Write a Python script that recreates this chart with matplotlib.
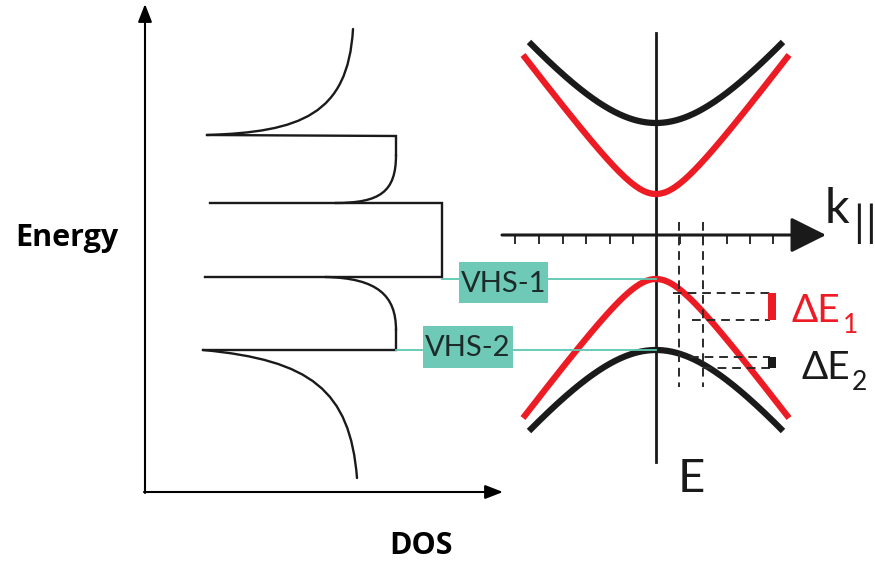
import numpy as np
from matplotlib import pyplot as plt
from matplotlib.path import Path
from matplotlib.patches import PathPatch, Rectangle

plt.rcParams['font.family'] = ['Lato', 'DejaVu Sans']

# everything is laid out in image pixels (x right, y down)
W, H = 875, 565

# DOS outline: bezier pieces (start, ctrl1, ctrl2, end) and straight steps
dos_top_curve = [(353, 29), (348, 115), (300, 132), (207, 135)]
dos_step1 = [(207, 135), (396, 136), (396, 155)]
dos_step1_curve = [(396, 155), (396, 192), (380, 203), (335, 203)]
dos_box = [(210, 203), (442, 203), (442, 277), (205, 277)]
dos_low_curve = [(325, 277), (378, 278), (396, 296), (396, 330)]
dos_step2 = [(396, 330), (396, 350), (203, 350)]
dos_bottom_curve = [(203, 350), (310, 360), (350, 390), (357, 478)]

# band structure (massive Dirac-like hyperbolas around the k axis)
k_axis_y = 236.5
k_center = 656
band_gap = [113.5, 42.5]        # half gap, px
band_slope = [1.244, 1.327]
band_halfwidth = [127, 133]
band_color = ['#1a1a1a', '#ed1c24']

tick_x = [515, 539, 563, 586, 610, 633, 680, 703, 727, 750, 773]

# van Hove markers
vhs_labels = ['VHS-1', 'VHS-2']
vhs_y = [279, 350]
vhs_line_start = [442, 396]
vhs_box = [(459, 262, 89, 41), (423, 326, 90, 42)]

# delta E construction
dash_vx = [679, 703]
de_y = [(293, 320), (357, 368)]
de_x0 = [(673, 692), (690, 703)]
de_color = ['#ed1c24', '#1a1a1a']
de_subs = ['1', '2']
de_text_pos = [(792, 322), (801, 379)]

fig = plt.figure(figsize=(W / 100, H / 100), dpi=100)
ax = fig.add_axes([0, 0, 1, 1])
ax.set_xlim(0, W)
ax.set_ylim(H, 0)
ax.axis('off')

# --- left panel: axes
ax.annotate('', xy=(145, 4), xytext=(145, 493),
            arrowprops=dict(arrowstyle='-|>,head_length=0.9,head_width=0.35',
                            mutation_scale=12, lw=1.5, color='black', shrinkA=0, shrinkB=0))
ax.annotate('', xy=(503, 492), xytext=(144, 492),
            arrowprops=dict(arrowstyle='-|>,head_length=0.9,head_width=0.35',
                            mutation_scale=12, lw=1.5, color='black', shrinkA=0, shrinkB=0))


def bez(pts):
    return Path(pts, [Path.MOVETO, Path.CURVE4, Path.CURVE4, Path.CURVE4])


for c in [dos_top_curve, dos_step1_curve, dos_low_curve, dos_bottom_curve]:
    ax.add_patch(PathPatch(bez(c), fill=False, lw=1.7, ec='#1a1a1a', capstyle='round'))
for s in [dos_step1, dos_box, dos_step2]:
    xs, ys = zip(*s)
    ax.plot(xs, ys, color='#1a1a1a', lw=1.7, solid_joinstyle='miter')

ax.text(67, 238, 'Energy', ha='center', va='center', fontsize=22,
        fontweight='bold', family=['Open Sans', 'DejaVu Sans'])
ax.text(421, 546, 'DOS', ha='center', va='center', fontsize=22,
        fontweight='bold', family=['Open Sans', 'DejaVu Sans'])

# --- VHS connectors and labels
for lab, y, x0, (bx, by, bw, bh) in zip(vhs_labels, vhs_y, vhs_line_start, vhs_box):
    ax.plot([x0, k_center], [y, y], color='#5cc8b0', lw=1.3, zorder=4)
    ax.add_patch(Rectangle((bx, by), bw, bh, fc='#6fc9b7', ec='none', zorder=5))
    ax.text(bx + bw / 2, by + bh / 2 + 1, lab, ha='center', va='center',
            fontsize=21, color='#1d2b2a', zorder=6)

# --- bands
for g, s, hw, col in zip(band_gap, band_slope, band_halfwidth, band_color):
    dx = np.linspace(-hw, hw, 300)
    off = np.sqrt(g ** 2 + (s * dx) ** 2)
    ax.plot(k_center + dx, k_axis_y - off, color=col, lw=4.5, solid_capstyle='butt', zorder=3)
    ax.plot(k_center + dx, k_axis_y + off, color=col, lw=4.5, solid_capstyle='butt', zorder=3)

# --- right panel axes
ax.plot([k_center, k_center], [33, 462], color='#1a1a1a', lw=2.0, zorder=2)
ax.annotate('', xy=(826, 235), xytext=(502, 235),
            arrowprops=dict(arrowstyle='-|>,head_length=1.1,head_width=0.55',
                            mutation_scale=20, lw=2.2, color='#1a1a1a', shrinkA=0, shrinkB=0))
ax.vlines(tick_x, 235, 244, color='#1a1a1a', lw=1.3)
ax.text(825, 223, 'k', ha='left', va='baseline', fontsize=35, color='#1a1a1a')
for bx in [853, 865]:
    ax.text(bx, 237, '|', ha='left', va='baseline', fontsize=31, color='#1a1a1a')
ax.text(678, 492, 'E', ha='left', va='baseline', fontsize=34, color='#1a1a1a')

# --- delta E construction
dash = dict(color='#2a2a2a', lw=1.4, linestyle=(0, (4.5, 3)), zorder=4)
for x in dash_vx:
    ax.plot([x, x], [222, 387], **dash)
for (y1, y2), (x1, x2), col in zip(de_y, de_x0, de_color):
    ax.plot([x1, 770], [y1, y1], **dash)
    ax.plot([x2, 770], [y2, y2], **dash)
    ax.add_patch(Rectangle((768, y1), 8, y2 - y1, fc=col, ec='none', zorder=5))

renderer = fig.canvas.get_renderer()
inv = ax.transData.inverted()
for (tx, ty), sub, col in zip(de_text_pos, de_subs, de_color):
    t = ax.text(tx, ty, 'ΔE', ha='left', va='baseline', fontsize=28, color=col)
    bb = t.get_window_extent(renderer)
    x_end = inv.transform((bb.x1, bb.y0))[0]
    ax.text(x_end + 2, ty + 11, sub, ha='left', va='baseline', fontsize=19, color=col)

fig.savefig('out.png', dpi=100)
